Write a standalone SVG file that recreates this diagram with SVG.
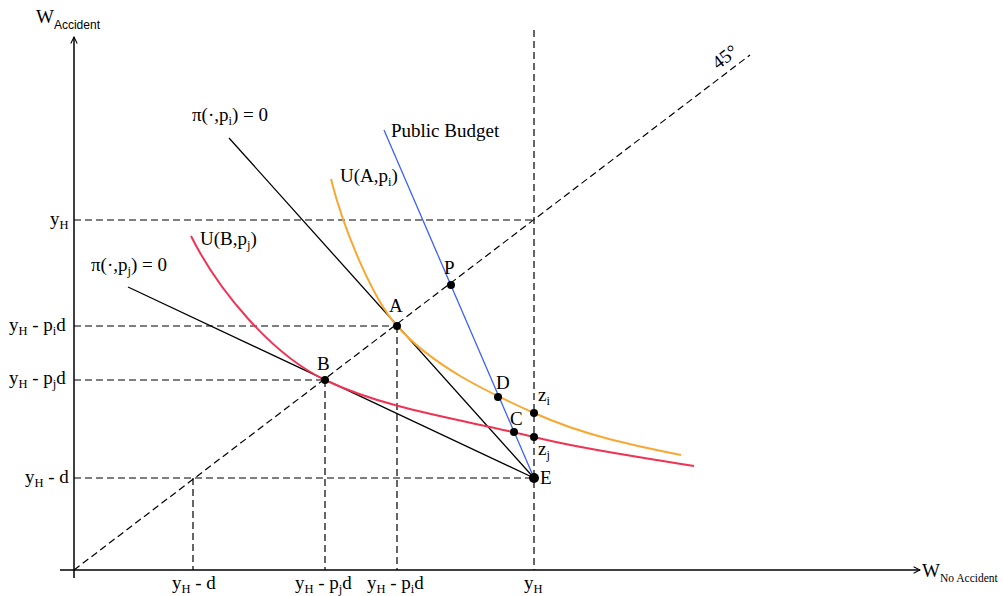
<svg xmlns="http://www.w3.org/2000/svg" width="1003" height="596" viewBox="0 0 1003 596">
<style>
text{font-family:"Liberation Serif","Times New Roman",serif;font-size:19px;fill:#000}
.sub{font-size:12.5px}
.sans{font-family:"Liberation Sans",Arial,sans-serif;font-size:12px}
.ax{stroke:#000;stroke-width:1.5;fill:none}
.dash{stroke:#000;stroke-width:1.2;stroke-dasharray:7 4;fill:none}
.blk{stroke:#000;stroke-width:1.3;fill:none}
.pt{fill:#000}
</style>
<defs>
<marker id="arr" viewBox="0 0 10 10" refX="9" refY="5" markerWidth="8" markerHeight="8" orient="auto" markerUnits="userSpaceOnUse">
<path d="M1,1 L9,5 L1,9" fill="none" stroke="#000" stroke-width="1.3"/>
</marker>
</defs>
<rect width="1003" height="596" fill="#fff"/>
<g id="axes">
<line class="ax" x1="74" y1="578" x2="74" y2="37" marker-end="url(#arr)"/>
<line class="ax" x1="60" y1="570" x2="920" y2="570" marker-end="url(#arr)"/>
<text x="36" y="23">W<tspan class="sans" dy="6">Accident</tspan></text>
<text x="922" y="577">W<tspan font-size="11.5" dy="5">No Accident</tspan></text>
</g>
<g id="connectors">
<line class="dash" x1="74" y1="570" x2="750" y2="55"/>
<line class="dash" x1="74" y1="220" x2="534" y2="220"/>
<line class="dash" x1="74" y1="326" x2="397" y2="326"/>
<line class="dash" x1="74" y1="380" x2="325" y2="380"/>
<line class="dash" x1="74" y1="478" x2="534" y2="478"/>
<line class="dash" x1="193" y1="478" x2="193" y2="570"/>
<line class="dash" x1="325" y1="380" x2="325" y2="570"/>
<line class="dash" x1="397" y1="326" x2="397" y2="570"/>
<line class="dash" x1="534" y1="30" x2="534" y2="570"/>
<line class="blk" x1="229" y1="138" x2="534" y2="478"/>
<line class="blk" x1="128" y1="287" x2="534" y2="478"/>
<line x1="384" y1="130" x2="534" y2="478" stroke="#3d62ee" stroke-width="1.3"/>
<path d="M331,179 C344,231 373,299 397,326 C433,366 485,391 534,413 C583,435 631,445 681,455" fill="none" stroke="#f8a832" stroke-width="2"/>
<path d="M191,236 C218,290 271,354 325,380 C388,410 466,420 534,437 C586,450 641,457 694,466" fill="none" stroke="#ee3355" stroke-width="2"/>
</g>
<g id="label-45"><text x="718" y="70" font-size="17" transform="rotate(-37 718 70)">45°</text></g>
<g id="line-pi-i"><text x="192" y="121">π(·,p<tspan class="sub" dy="4">i</tspan><tspan dy="-4">) = 0</tspan></text></g>
<g id="line-pi-j"><text x="91" y="271">π(·,p<tspan class="sub" dy="4">j</tspan><tspan dy="-4">) = 0</tspan></text></g>
<g id="public-budget"><text x="391" y="137">Public Budget</text></g>
<g id="curve-UA"><text x="340" y="182">U(A,p<tspan class="sub" dy="4">i</tspan><tspan dy="-4">)</tspan></text></g>
<g id="curve-UB"><text x="200" y="245">U(B,p<tspan class="sub" dy="4">j</tspan><tspan dy="-4">)</tspan></text></g>
<g id="ylabels">
<text x="50" y="225">y<tspan class="sub" dy="4">H</tspan></text>
<text x="9" y="331">y<tspan class="sub" dy="4">H</tspan><tspan dy="-4"> - p</tspan><tspan class="sub" dy="4">i</tspan><tspan dy="-4">d</tspan></text>
<text x="9" y="384">y<tspan class="sub" dy="4">H</tspan><tspan dy="-4"> - p</tspan><tspan class="sub" dy="4">j</tspan><tspan dy="-4">d</tspan></text>
<text x="25" y="483">y<tspan class="sub" dy="4">H</tspan><tspan dy="-4"> - d</tspan></text>
</g>
<g id="xlabels">
<text x="172" y="589">y<tspan class="sub" dy="4">H</tspan><tspan dy="-4"> - d</tspan></text>
<text x="295" y="589">y<tspan class="sub" dy="4">H</tspan><tspan dy="-4"> - p</tspan><tspan class="sub" dy="4">j</tspan><tspan dy="-4">d</tspan></text>
<text x="367" y="589">y<tspan class="sub" dy="4">H</tspan><tspan dy="-4"> - p</tspan><tspan class="sub" dy="4">i</tspan><tspan dy="-4">d</tspan></text>
<text x="524" y="589">y<tspan class="sub" dy="4">H</tspan></text>
</g>
<g id="node-A"><circle class="pt" cx="397" cy="326" r="4"/><text x="389" y="312">A</text></g>
<g id="node-B"><circle class="pt" cx="325" cy="380" r="4"/><text x="317" y="370">B</text></g>
<g id="node-P"><circle class="pt" cx="451" cy="285" r="4"/><text x="444" y="274">P</text></g>
<g id="node-D"><circle class="pt" cx="498" cy="397" r="4"/><text x="496" y="389">D</text></g>
<g id="node-C"><circle class="pt" cx="514" cy="432" r="4"/><text x="510" y="425">C</text></g>
<g id="node-zi"><circle class="pt" cx="534" cy="413" r="4"/><text x="538" y="401">z<tspan class="sub" dy="4">i</tspan></text></g>
<g id="node-zj"><circle class="pt" cx="534" cy="437" r="4"/><text x="538" y="455">z<tspan class="sub" dy="4">j</tspan></text></g>
<g id="node-E"><circle class="pt" cx="534" cy="478" r="5"/><text x="540" y="484">E</text></g>
</svg>
